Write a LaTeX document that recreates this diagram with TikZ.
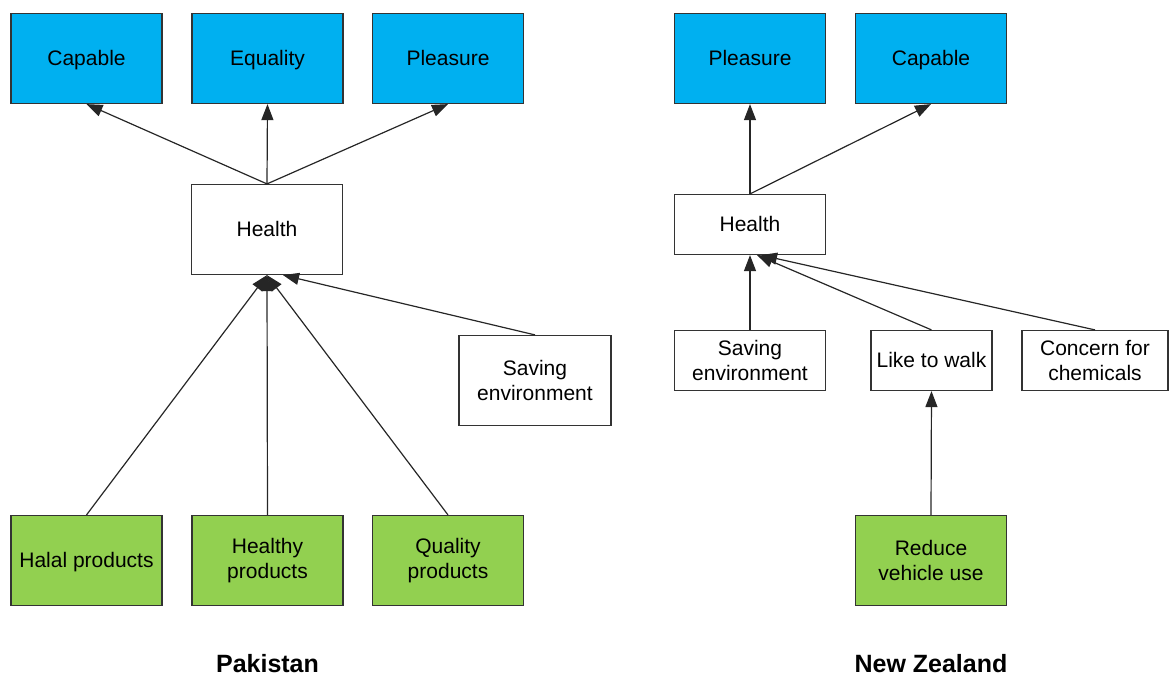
\documentclass[tikz,border=0pt]{standalone}
\usepackage{fontspec}
\setmainfont{Liberation Sans}
\usetikzlibrary{arrows.meta, positioning, calc}

\definecolor{goalblue}{HTML}{00B0F0}
\definecolor{attrgreen}{HTML}{92D050}

\begin{document}
\begin{tikzpicture}[x=0.5pt, y=-0.5pt, >={Triangle[length=8pt, width=6pt]},
    font=\fontsize{10.5}{12.5}\selectfont,
    box/.style={draw=black!80, line width=0.6pt, align=center, inner sep=2pt,
      minimum width=75.5pt, minimum height=45pt},
    one/.style={text height=8.8pt, text depth=1.6pt},
    goal/.style={box, one, fill=goalblue},
    attr/.style={box, fill=attrgreen},
    flat/.style={box, minimum height=30pt},
    link/.style={->, line width=0.6pt, black!85}]
    \useasboundingbox (0,0) rectangle (1169,677);

    % Pakistan
    \node[goal] (cap1) at (86.5,58.5) {Capable};
    \node[goal] (equ1) at (267.5,58.5) {Equality};
    \node[goal] (ple1) at (448,58.5) {Pleasure};
    \node[box, one] (hea1) at (267,229.5) {Health};
    \node[box, minimum width=76pt] (sav1) at (535,380.5) {Saving\\environment};
    \node[attr, one] (hal1) at (86.5,560.5) {Halal products};
    \node[attr] (hlt1) at (267.5,560.5) {Healthy\\products};
    \node[attr] (qua1) at (448,560.5) {Quality\\products};
    \node[font=\fontsize{12.5}{14}\selectfont\bfseries] (pak) at (267.5,664) {Pakistan};

    \draw[link] (hea1.north) -- (cap1.south);
    \draw[link] (hea1.north) -- (equ1.south);
    \draw[link] (hea1.north) -- (ple1.south);
    \draw[link] (hal1.north) -- (hea1.south);
    \draw[link] (hlt1.north) -- (hea1.south);
    \draw[link] (qua1.north) -- (hea1.south);
    \draw[link] (sav1.north) -- ([xshift=8pt]hea1.south);

    % New Zealand
    \node[goal] (ple2) at (750,58.5) {Pleasure};
    \node[goal] (cap2) at (931,58.5) {Capable};
    \node[flat, one] (hea2) at (750,224.5) {Health};
    \node[flat] (sav2) at (750,360.5) {Saving\\environment};
    \node[flat, one, minimum width=60.5pt] (wlk2) at (931.5,360.5) {Like to walk};
    \node[flat, minimum width=73pt] (chm2) at (1095,360.5) {Concern for\\chemicals};
    \node[attr] (red2) at (931,560.5) {Reduce\\vehicle use};
    \node[font=\fontsize{12.5}{14}\selectfont\bfseries] (nz) at (931,664) {New Zealand};

    \draw[link] (hea2.north) -- (ple2.south);
    \draw[link] (hea2.north) -- (cap2.south);
    \draw[link] (sav2.north) -- (hea2.south);
    \draw[link] (wlk2.north) -- ([xshift=3.5pt]hea2.south);
    \draw[link] (chm2.north) -- ([xshift=5.5pt]hea2.south);
    \draw[link] (red2.north) -- (wlk2.south);
\end{tikzpicture}
\end{document}
